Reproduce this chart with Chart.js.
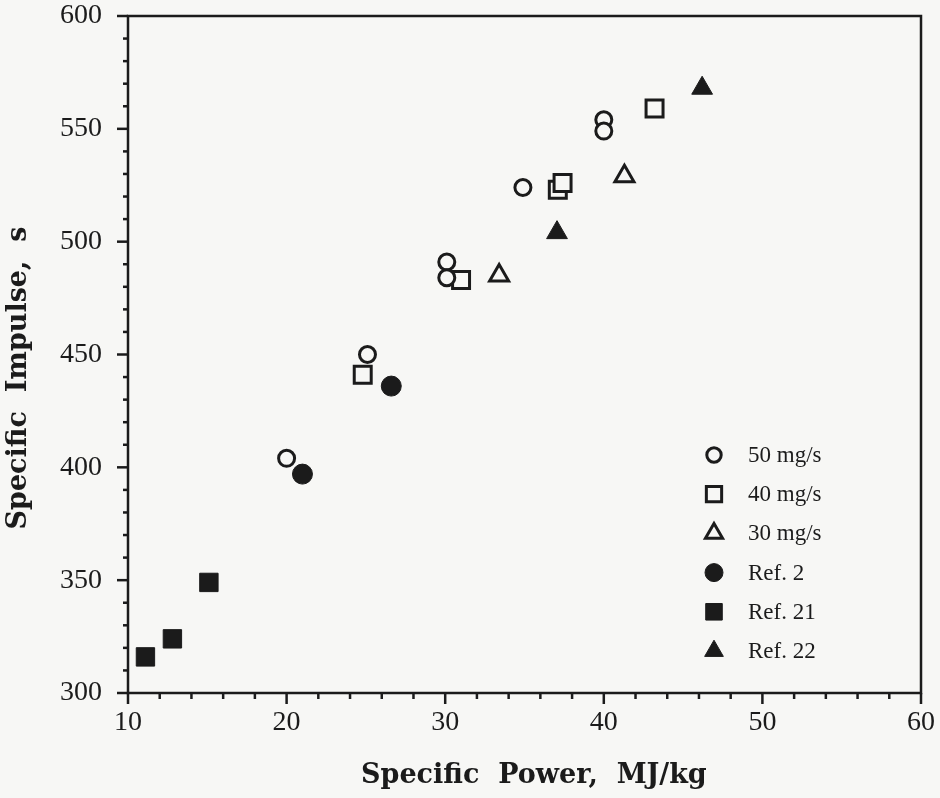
<!DOCTYPE html>
<html lang="en">
<head>
  <meta charset="UTF-8" />
  <title>Specific Impulse vs Specific Power</title>
  <script src="https://cdn.jsdelivr.net/npm/chart.js"></script>
  <style>
    html, body { margin: 0; padding: 0; background: #f7f7f5; }
    #wrap { width: 940px; height: 798px; }
  </style>
</head>
<body>
  <div id="wrap"><canvas id="impulseChart"></canvas></div>

<script>
  // values: x = specific power (MJ/kg), y = specific impulse (s)
  const labels = ["50 mg/s", "40 mg/s", "30 mg/s", "Ref. 2", "Ref. 21", "Ref. 22"];

  const flow50x = [20.0, 25.1, 30.1, 30.1, 34.9, 40.0, 40.0];
  const flow50y = [404, 450, 491, 484, 524, 554, 549];

  const flow40x = [24.8, 31.0, 37.1, 37.4, 43.2];
  const flow40y = [441, 483, 523, 526, 559];

  const flow30x = [33.4, 41.3];
  const flow30y = [485, 529];

  const ref2x = [21.0, 26.6];
  const ref2y = [397, 436];

  const ref21x = [11.1, 12.8, 15.1];
  const ref21y = [316, 324, 349];

  const ref22x = [37.05, 46.2];
  const ref22y = [504, 568];

  const xRange = [10, 60];
  const yRange = [300, 600];
  const xMajor = 10, xMinor = 2;
  const yMajor = 50, yMinor = 10;

  const INK = "#1b1b1b";
  const BG = "#f7f7f5";

  function pts(xs, ys) {
    return xs.map((x, i) => ({ x: x, y: ys[i] }));
  }

  const markers = [
    { style: "circle",   r: 8,  fill: false },
    { style: "rect",     r: 12, fill: false },
    { style: "triangle", r: 11, fill: false },
    { style: "circle",   r: 10, fill: true },
    { style: "rect",     r: 13, fill: true },
    { style: "triangle", r: 12, fill: true }
  ];
  const series = [
    pts(flow50x, flow50y), pts(flow40x, flow40y), pts(flow30x, flow30y),
    pts(ref2x, ref2y), pts(ref21x, ref21y), pts(ref22x, ref22y)
  ];

  const datasets = series.map((data, i) => ({
    label: labels[i],
    data: data,
    pointStyle: markers[i].style,
    pointRadius: markers[i].r,
    pointBorderWidth: markers[i].fill ? 1 : 3,
    borderColor: INK,
    backgroundColor: markers[i].fill ? INK : BG,
    showLine: false
  }));

  function drawMarker(ctx, style, r, x, y) {
    if (Chart.helpers && Chart.helpers.drawPoint) {
      Chart.helpers.drawPoint(ctx, { pointStyle: style, radius: r, rotation: 0, borderWidth: ctx.lineWidth }, x, y);
      return;
    }
    ctx.beginPath();
    if (style === "circle") ctx.arc(x, y, r, 0, Math.PI * 2);
    else if (style === "rect") { const s = Math.SQRT1_2 * r; ctx.rect(x - s, y - s, 2 * s, 2 * s); }
    else {
      for (let k = 0; k < 3; k++) {
        const a = k * 2 * Math.PI / 3;
        ctx.lineTo(x + Math.sin(a) * r, y - Math.cos(a) * r);
      }
      ctx.closePath();
    }
    ctx.fill();
    ctx.stroke();
  }

  // frame, minor/major ticks and the in-plot legend
  const framePlugin = {
    id: "frame",
    afterDraw(chart) {
      const { ctx, chartArea: a, scales: { x, y } } = chart;
      ctx.save();
      ctx.strokeStyle = INK;
      ctx.lineWidth = 2.5;
      ctx.strokeRect(a.left, a.top, a.right - a.left, a.bottom - a.top);

      y.ticks.forEach(t => {
        const py = y.getPixelForValue(t.value);
        const len = t.value % yMajor === 0 ? 11 : 5;
        ctx.beginPath();
        ctx.moveTo(a.left, py);
        ctx.lineTo(a.left - len, py);
        ctx.stroke();
      });
      x.ticks.forEach(t => {
        const px = x.getPixelForValue(t.value);
        const len = t.value % xMajor === 0 ? 11 : 6;
        ctx.beginPath();
        ctx.moveTo(px, a.bottom);
        ctx.lineTo(px, a.bottom + len);
        ctx.stroke();
      });

      // legend
      const mx = a.right - 207, tx = a.right - 173;
      let ly = a.bottom - 238;
      ctx.font = "23px 'Liberation Serif'";
      ctx.textBaseline = "middle";
      chart.data.datasets.forEach((ds, i) => {
        ctx.fillStyle = ds.backgroundColor;
        ctx.strokeStyle = INK;
        ctx.lineWidth = ds.pointBorderWidth;
        drawMarker(ctx, ds.pointStyle, ds.pointRadius * 0.9, mx, ly);
        ctx.fillStyle = INK;
        ctx.fillText(ds.label, tx, ly + 1);
        ly += 39.2;
      });
      ctx.restore();
    }
  };

  const ctx = document.getElementById("impulseChart").getContext("2d");
  new Chart(ctx, {
    type: "scatter",
    data: { datasets: datasets },
    plugins: [framePlugin],
    options: {
      responsive: true,
      maintainAspectRatio: false,
      animation: false,
      events: [],
      layout: { padding: { left: 0, top: 16, right: 19, bottom: 0 } },
      plugins: { legend: { display: false }, tooltip: { enabled: false } },
      scales: {
        x: {
          type: "linear",
          min: xRange[0], max: xRange[1],
          grid: { display: false, drawTicks: true, tickLength: 16 },
          border: { display: false },
          afterFit(scale) { scale.height = 105; },
          ticks: {
            stepSize: xMinor,
            autoSkip: false,
            maxRotation: 0,
            padding: 0,
            color: INK,
            font: { family: "'Liberation Serif'", size: 28, lineHeight: 1.0 },
            callback: v => (v % xMajor === 0 ? v : "")
          },
          title: {
            display: true,
            text: "  Specific  Power,  MJ/kg",
            color: INK,
            font: { family: "'DejaVu Serif'", size: 27, weight: "bold" },
            padding: { top: 0, bottom: 6 }
          }
        },
        y: {
          type: "linear",
          min: yRange[0], max: yRange[1],
          grid: { display: false, drawTicks: true, tickLength: 24 },
          border: { display: false },
          afterFit(scale) { scale.width = 128; },
          ticks: {
            stepSize: yMinor,
            autoSkip: false,
            padding: 2,
            color: INK,
            font: { family: "'Liberation Serif'", size: 28, lineHeight: 1.0 },
            callback: v => (v % yMajor === 0 ? v : "")
          },
          title: {
            display: true,
            text: "Specific  Impulse,  s     ",
            color: INK,
            font: { family: "'DejaVu Serif'", size: 27, weight: "bold" },
            padding: { top: 3, bottom: 0 }
          }
        }
      }
    }
  });
</script>
</body>
</html>
